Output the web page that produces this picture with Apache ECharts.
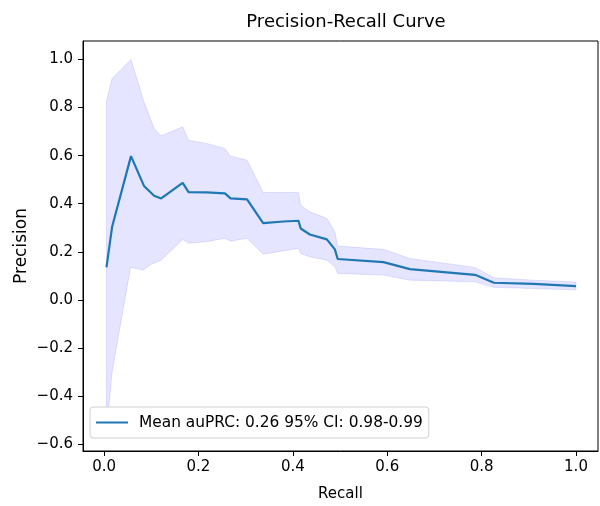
<!DOCTYPE html>
<html>
<head>
<meta charset="utf-8">
<script src="https://cdn.jsdelivr.net/npm/echarts@6/dist/echarts.min.js"></script>
<style>
html,body{margin:0;padding:0;background:#fff;}
#chart{width:600px;height:506px;}
</style>
</head>
<body>
<div id="chart"></div>
<script>
// Mean precision-recall curve
var recall = [0.005, 0.017, 0.057, 0.0845, 0.106, 0.121, 0.1665, 0.179, 0.217, 0.256, 0.268, 0.303, 0.337, 0.380, 0.412, 0.4166, 0.436, 0.472, 0.489, 0.495, 0.592, 0.648, 0.786, 0.826, 0.910, 1.0];
var meanPrecision = [0.135, 0.304, 0.598, 0.474, 0.433, 0.422, 0.487, 0.448, 0.447, 0.443, 0.422, 0.418, 0.319, 0.326, 0.329, 0.297, 0.272, 0.2515, 0.21, 0.17, 0.157, 0.128, 0.104, 0.071, 0.066, 0.057];
// Upper confidence bound (same recall points)
var upperPrecision = [0.828, 0.921, 1.0, 0.824, 0.713, 0.683, 0.72, 0.664, 0.651, 0.63, 0.598, 0.581, 0.447, 0.447, 0.447, 0.394, 0.366, 0.339, 0.283, 0.224, 0.21, 0.172, 0.135, 0.092, 0.082, 0.074];
// Lower confidence bound
var lowerRecall = [0.005, 0.017, 0.056, 0.083, 0.101, 0.121, 0.1665, 0.179, 0.217, 0.256, 0.268, 0.303, 0.337, 0.412, 0.4166, 0.436, 0.472, 0.489, 0.495, 0.592, 0.648, 0.786, 0.826, 0.910, 1.0];
var lowerPrecision = [-0.548, -0.30, 0.135, 0.124, 0.149, 0.165, 0.251, 0.235, 0.242, 0.256, 0.244, 0.256, 0.19, 0.214, 0.193, 0.179, 0.165, 0.138, 0.11, 0.103, 0.082, 0.075, 0.052, 0.047, 0.041];
// Ticks
var xTicks = [0.0, 0.2, 0.4, 0.6, 0.8, 1.0];
var yTicks = [-0.6, -0.4, -0.2, 0.0, 0.2, 0.4, 0.6, 0.8, 1.0];
var legendLabel = 'Mean auPRC: 0.26 95% CI: 0.98-0.99';

var meanData = recall.map(function (r, i) { return [r, meanPrecision[i]]; });
var upperPts = recall.map(function (r, i) { return [r, upperPrecision[i]]; });
var lowerPts = lowerRecall.map(function (r, i) { return [r, lowerPrecision[i]]; });

function fmt(v) {
  var s = Math.abs(v).toFixed(1);
  return (v < -1e-9 ? '\u2212' : '') + s;
}

var FONT = 'DejaVu Sans';
var chart = echarts.init(document.getElementById('chart'), null, {renderer: 'canvas'});
chart.setOption({
  animation: false,
  backgroundColor: '#fff',
  title: {
    text: 'Precision-Recall Curve',
    left: 341, top: 8, textAlign: 'center',
    textStyle: {fontFamily: FONT, fontSize: 18, fontWeight: 'normal', color: '#000'}
  },
  grid: {left: 83, right: 2, top: 41, bottom: 55, containLabel: false, outerBoundsMode: 'none',
         show: true, borderColor: '#000', borderWidth: 1, backgroundColor: 'transparent'},
  legend: {
    data: [legendLabel],
    left: 90, top: 407,
    orient: 'vertical',
    backgroundColor: '#fff',
    borderColor: '#d0d0d0', borderWidth: 1, borderRadius: 3,
    padding: [8, 6, 8, 6],
    icon: 'rect', itemWidth: 32, itemHeight: 2, itemGap: 10,
    textStyle: {fontFamily: FONT, fontSize: 15.4, color: '#000', padding: [0, 0, 0, 6]}
  },
  xAxis: {
    type: 'value', min: -0.0447, max: 1.0466,
    name: 'Recall', nameLocation: 'middle', nameGap: 36, nameMoveOverlap: false,
    nameTextStyle: {fontFamily: FONT, fontSize: 15, color: '#000'},
    axisLine: {show: true, onZero: false, lineStyle: {color: '#000', width: 1}},
    axisTick: {show: true, length: 5, customValues: xTicks, lineStyle: {color: '#000'}},
    axisLabel: {customValues: xTicks, formatter: fmt, fontFamily: FONT, fontSize: 15, color: '#000', margin: 9},
    splitLine: {show: false}
  },
  yAxis: {
    type: 'value', min: -0.629, max: 1.077,
    name: 'Precision', nameLocation: 'middle', nameGap: 53, nameRotate: 90, nameMoveOverlap: false,
    nameTextStyle: {fontFamily: FONT, fontSize: 17, color: '#000'},
    axisLine: {show: true, onZero: false, lineStyle: {color: '#000', width: 1}},
    axisTick: {show: true, length: 5, customValues: yTicks, lineStyle: {color: '#000'}},
    axisLabel: {customValues: yTicks, formatter: fmt, fontFamily: FONT, fontSize: 15, color: '#000', margin: 10},
    splitLine: {show: false}
  },
  series: [
    {
      type: 'custom',
      name: 'band',
      silent: true,
      z: 1,
      data: [[0, 0]],
      renderItem: function (params, api) {
        var pts = [];
        upperPts.forEach(function (p) { pts.push(api.coord(p)); });
        for (var i = lowerPts.length - 1; i >= 0; i--) pts.push(api.coord(lowerPts[i]));
        return {
          type: 'polygon',
          shape: {points: pts},
          style: {fill: 'rgba(0,0,255,0.1)', stroke: 'rgba(0,0,255,0.1)', lineWidth: 1}
        };
      }
    },
    {
      type: 'line',
      name: legendLabel,
      data: meanData,
      showSymbol: false,
      symbol: 'none',
      z: 3,
      lineStyle: {color: '#1f77b4', width: 2.2},
      itemStyle: {color: '#1f77b4'}
    }
  ]
});
</script>
</body>
</html>
